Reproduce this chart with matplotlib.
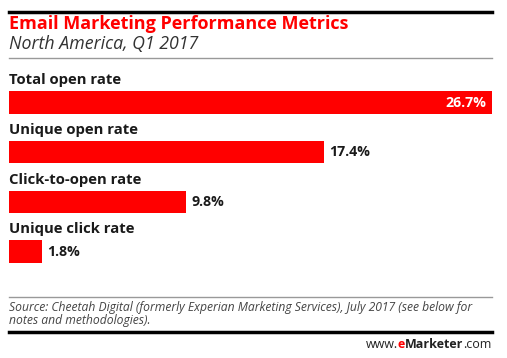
import matplotlib.pyplot as plt
from matplotlib.lines import Line2D

metrics = ["Total open rate", "Unique open rate", "Click-to-open rate", "Unique click rate"]
values = [26.7, 17.4, 9.8, 1.8]

RED = "#ff0000"
plt.rcParams['font.family'] = ['Open Sans', 'DejaVu Sans']

fig = plt.figure(figsize=(5.07, 3.58), dpi=100)
W, H = 507, 358


def fx(px):
    return px / W


def fy(py):
    return 1 - py / H


# frame lines
fig.add_artist(Line2D([fx(9), fx(492)], [fy(12), fy(12)], color="black", lw=2.5))
fig.add_artist(Line2D([fx(9), fx(492)], [fy(58), fy(58)], color="#999999", lw=1))
fig.add_artist(Line2D([fx(9), fx(492)], [fy(297), fy(297)], color="#999999", lw=1))
fig.add_artist(Line2D([fx(9), fx(492)], [fy(332), fy(332)], color="black", lw=2.5))

fig.text(fx(9), fy(24), "Email Marketing Performance Metrics", color=RED,
         fontsize=13, fontweight="bold", va="center")
fig.text(fx(9), fy(44), "North America, Q1 2017", color="#333333",
         fontsize=12.8, style="italic", va="center")

# bars
top, bottom = 57.8, 281.4
ax = fig.add_axes([fx(9), fy(bottom), fx(492) - fx(9), (bottom - top) / H])
ax.barh(range(len(values)), values, height=0.45, color=RED)
ax.set_xlim(0, 26.7)
ax.set_ylim(3.6, -0.9)
ax.axis("off")

for i, (name, v) in enumerate(zip(metrics, values)):
    ax.text(0, i - 0.45, name, fontsize=10.7, fontweight="bold", color="#1a1a1a",
            va="center", ha="left")
    if v == max(values):
        ax.text(v - 0.3, i, f"{v}%", fontsize=10.2, fontweight="bold", color="white",
                va="center", ha="right")
    else:
        ax.text(v + 0.3, i, f"{v}%", fontsize=10.2, fontweight="bold", color="#1a1a1a",
                va="center", ha="left")

fig.text(fx(9), fy(314), "Source: Cheetah Digital (formerly Experian Marketing Services), July 2017 (see below for\nnotes and methodologies).",
         fontsize=8.7, style="italic", color="#444444", va="center", linespacing=0.95)

t1 = fig.text(fx(492), fy(344), ".com", fontsize=9, color="#222222", ha="right", va="center")
fig.canvas.draw()
r = fig.canvas.get_renderer()
bb = t1.get_window_extent(r)
t2 = fig.text(bb.x0 / W, fy(344), "Marketer", fontsize=9, fontweight="bold",
              color="#222222", ha="right", va="center")
bb = t2.get_window_extent(r)
t3 = fig.text(bb.x0 / W, fy(344), "e", fontsize=9, fontweight="bold",
              color=RED, ha="right", va="center")
bb = t3.get_window_extent(r)
fig.text(bb.x0 / W, fy(344), "www.", fontsize=9, color="#222222", ha="right", va="center")

fig.savefig("out.png", dpi=100, facecolor="white")
